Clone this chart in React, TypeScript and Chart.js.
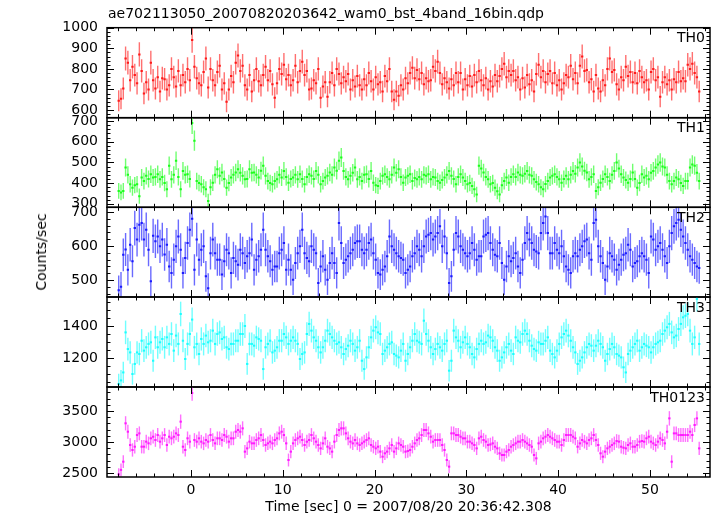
import React, { useEffect, useRef } from "react";
import { Chart, registerables } from "chart.js";

Chart.register(...registerables);

// ---------- data ----------
const TITLE = "ae702113050_20070820203642_wam0_bst_4band_16bin.qdp";
const X_TITLE = "Time [sec] 0 = 2007/08/20 20:36:42.308";
const Y_TITLE = "Counts/sec";

const BIN = 0.25; // seconds per bin
const T_START = -7.875; // centre of first bin
const X_TICKS = [0, 10, 20, 30, 40, 50];

const TH0 = [
  645, 655, 705, 850, 830, 745, 810, 770, 730, 870, 790, 680, 735, 700, 830, 745,
  705, 760, 690, 755, 750, 700, 720, 800, 760, 715, 790, 720, 770, 735, 800, 745,
  940, 810, 755, 730, 720, 785, 850, 710, 800, 745, 720, 785, 815, 700, 730, 640,
  700, 765, 735, 830, 865, 790, 815, 720, 700, 770, 690, 745, 800, 740, 720, 770,
  810, 745, 790, 725, 660, 730, 800, 775, 820, 750, 770, 720, 745, 815, 735, 790,
  835, 770, 790, 700, 705, 745, 730, 800, 660, 715, 735, 665, 735, 780, 720, 800,
  775, 730, 760, 740, 775, 700, 745, 715, 765, 720, 700, 750, 720, 780, 740, 700,
  760, 725, 735, 690, 765, 740, 800, 690, 650, 690, 670, 720, 700, 755, 730, 780,
  805, 755, 795, 750, 780, 725, 755, 740, 745, 810, 790, 835, 780, 725, 755, 735,
  705, 750, 720, 780, 735, 780, 700, 750, 720, 765, 715, 770, 735, 790, 745, 720,
  755, 700, 740, 715, 770, 740, 765, 800, 825, 760, 790, 770, 790, 745, 760, 700,
  755, 710, 770, 725, 745, 690, 775, 820, 760, 790, 735, 775, 790, 730, 780, 720,
  745, 700, 730, 770, 760, 815, 750, 780, 730, 815, 860, 790, 795, 735, 750, 690,
  770, 705, 690, 745, 720, 800, 850, 785, 795, 725, 700, 760, 745, 810, 765, 785,
  735, 780, 730, 790, 760, 735, 745, 700, 785, 800, 745, 760, 665, 735, 760, 725,
  745, 700, 750, 735, 785, 740, 755, 740, 820, 800, 825, 780, 760, 690,
];

const TH1 = [
  362, 355, 362, 475, 440, 394, 378, 390, 394, 337, 427, 410, 435, 420, 443, 427,
  430, 443, 418, 430, 400, 370, 484, 418, 440, 508, 430, 370, 459, 440, 443, 420,
  690, 605, 410, 400, 394, 380, 370, 313, 380, 402, 440, 467, 435, 451, 420, 378,
  400, 427, 440, 451, 467, 450, 435, 418, 420, 467, 450, 451, 440, 427, 460, 484,
  435, 410, 400, 394, 410, 418, 440, 427, 459, 430, 402, 420, 427, 440, 418, 443,
  420, 394, 430, 443, 435, 420, 459, 440, 394, 410, 427, 435, 451, 440, 475, 460,
  508, 524, 459, 430, 418, 435, 450, 475, 418, 430, 410, 440, 443, 420, 459, 402,
  390, 386, 410, 435, 443, 430, 418, 440, 475, 450, 467, 430, 402, 427, 435, 443,
  410, 425, 418, 430, 418, 440, 435, 443, 418, 430, 427, 410, 402, 415, 427, 440,
  459, 435, 420, 394, 430, 443, 427, 410, 394, 400, 386, 370, 345, 484, 470, 451,
  430, 418, 394, 400, 378, 360, 345, 390, 410, 427, 402, 430, 443, 430, 451, 440,
  435, 445, 459, 440, 435, 418, 405, 394, 380, 370, 395, 410, 427, 435, 443, 430,
  418, 402, 420, 435, 418, 440, 459, 445, 475, 500, 480, 460, 451, 418, 430, 443,
  362, 380, 402, 420, 443, 430, 410, 440, 459, 500, 470, 443, 427, 415, 402, 420,
  451, 420, 378, 400, 443, 427, 435, 418, 450, 459, 475, 490, 500, 480, 475, 440,
  410, 394, 410, 427, 418, 400, 386, 410, 410, 475, 490, 484, 450, 410,
];

const TH2 = [
  470, 480, 574, 590, 530, 604, 555, 653, 619, 663, 668, 619, 648, 589, 496, 630,
  614, 628, 599, 619, 575, 604, 540, 521, 560, 599, 628, 589, 521, 565, 609, 648,
  680, 530, 619, 560, 589, 599, 511, 476, 579, 619, 579, 560, 560, 516, 555, 589,
  579, 521, 565, 555, 545, 589, 579, 550, 570, 579, 619, 530, 560, 570, 589, 648,
  589, 570, 555, 530, 540, 540, 579, 589, 609, 530, 560, 530, 501, 550, 579, 599,
  648, 579, 565, 555, 599, 589, 579, 491, 540, 570, 530, 501, 550, 579, 550, 521,
  668, 609, 550, 560, 570, 579, 589, 609, 614, 614, 589, 579, 589, 609, 619, 579,
  560, 521, 516, 530, 540, 570, 628, 599, 589, 579, 570, 565, 560, 521, 530, 540,
  570, 579, 599, 589, 570, 599, 628, 633, 638, 619, 628, 638, 658, 599, 628, 579,
  491, 511, 589, 638, 628, 599, 589, 579, 570, 579, 609, 589, 560, 570, 570, 628,
  633, 638, 609, 589, 574, 570, 609, 550, 501, 540, 570, 555, 565, 579, 540, 521,
  560, 609, 638, 619, 609, 589, 584, 579, 638, 668, 687, 638, 579, 579, 609, 589,
  579, 599, 570, 540, 530, 521, 570, 579, 570, 589, 599, 614, 619, 579, 560, 668,
  677, 599, 570, 550, 501, 540, 579, 570, 560, 530, 545, 560, 574, 579, 604, 589,
  540, 550, 555, 570, 579, 570, 560, 521, 628, 619, 589, 599, 609, 589, 570, 550,
  599, 638, 658, 668, 677, 648, 628, 609, 589, 570, 560, 550, 540, 535,
];

const TH3 = [
  1038, 1060, 1110, 1360, 1256, 1235, 1100, 1163, 1235, 1225, 1308, 1246, 1267, 1288, 1298, 1183,
  1329, 1267, 1298, 1319, 1267, 1329, 1288, 1350, 1246, 1340, 1288, 1475, 1308, 1194, 1288, 1350,
  1440, 1267, 1288, 1225, 1319, 1288, 1340, 1298, 1308, 1371, 1288, 1350, 1360, 1319, 1329, 1267,
  1256, 1288, 1288, 1308, 1308, 1350, 1350, 1400, 1163, 1288, 1288, 1277, 1329, 1319, 1308, 1131,
  1267, 1288, 1308, 1235, 1246, 1267, 1308, 1308, 1350, 1329, 1288, 1308, 1329, 1308, 1288, 1194,
  1225, 1235, 1350, 1413, 1371, 1329, 1308, 1267, 1235, 1267, 1308, 1371, 1350, 1329, 1308, 1288,
  1298, 1267, 1225, 1256, 1277, 1308, 1288, 1246, 1267, 1308, 1183, 1131, 1204, 1267, 1329, 1371,
  1392, 1360, 1350, 1225, 1246, 1267, 1288, 1298, 1225, 1215, 1204, 1246, 1288, 1183, 1225, 1267,
  1308, 1350, 1308, 1298, 1288, 1433, 1350, 1308, 1267, 1225, 1256, 1288, 1267, 1246, 1288, 1308,
  1121, 1183, 1371, 1329, 1308, 1267, 1298, 1329, 1288, 1267, 1225, 1204, 1256, 1288, 1308, 1288,
  1298, 1340, 1329, 1308, 1267, 1246, 1183, 1204, 1235, 1267, 1288, 1246, 1225, 1329, 1308, 1298,
  1350, 1371, 1350, 1308, 1277, 1256, 1246, 1298, 1288, 1288, 1308, 1329, 1246, 1225, 1204, 1246,
  1288, 1329, 1350, 1371, 1340, 1308, 1267, 1235, 1163, 1183, 1204, 1235, 1267, 1288, 1277, 1246,
  1277, 1308, 1288, 1267, 1183, 1225, 1256, 1288, 1267, 1225, 1215, 1204, 1142, 1110, 1225, 1246,
  1267, 1288, 1308, 1246, 1267, 1288, 1277, 1267, 1235, 1267, 1288, 1298, 1308, 1350, 1371, 1392,
  1413, 1360, 1329, 1340, 1381, 1413, 1454, 1464, 1475, 1371, 1288, 1329, 1569, 1288,
];

const TH0123 = [
  2478, 2550, 2682, 3301, 3166, 2951, 2871, 2924, 3112, 3139, 2924, 2924, 3005, 2978, 3059, 3085,
  3032, 3112, 3005, 3059, 3112, 2951, 3085, 3059, 3085, 3139, 3112, 3328, 2924, 2871, 3059, 3005,
  3790, 3032, 3005, 3059, 3005, 2978, 3032, 3005, 3112, 3032, 2978, 3059, 3059, 3032, 3112, 3085,
  3005, 3059, 3059, 3166, 3193, 3166, 3220, 2844, 2897, 3005, 2978, 2978, 3032, 3059, 3112, 3032,
  2951, 2978, 3005, 2978, 3032, 3059, 3139, 3166, 3112, 2978, 2709, 2844, 2978, 3032, 3059, 3085,
  3032, 2951, 3005, 3032, 3112, 3059, 3005, 2951, 2897, 2978, 3059, 2924, 2897, 2844, 3005, 3112,
  3193, 3220, 3220, 3139, 3059, 3005, 2978, 3032, 2978, 2951, 2978, 3005, 3032, 3059, 2951, 2924,
  2897, 2924, 2844, 2763, 2817, 2844, 2897, 2951, 2844, 2897, 2978, 2951, 2924, 2844, 2854, 2871,
  2924, 2978, 3032, 3059, 3112, 3193, 3193, 3139, 3085, 3005, 3032, 3032, 3032, 2951, 2871, 2709,
  2602, 3139, 3139, 3112, 3112, 3085, 3059, 3059, 3005, 3005, 2978, 2951, 2897, 3059, 3085, 3032,
  3005, 2951, 2960, 2978, 2924, 2897, 2817, 2790, 2790, 2844, 2871, 2924, 2951, 2978, 3005, 3005,
  3032, 3005, 2978, 2951, 2924, 2790, 2736, 2978, 3005, 3059, 3085, 3112, 3085, 3059, 3032, 3005,
  3005, 2951, 3032, 3112, 3112, 3112, 3085, 3059, 2924, 2978, 3032, 3005, 2978, 3032, 3059, 3112,
  3032, 2951, 2817, 2763, 2844, 2897, 2924, 2951, 2978, 3016, 3005, 2924, 2908, 2897, 2951, 2978,
  2924, 2924, 2951, 3005, 3016, 3005, 3059, 3085, 3005, 2978, 2951, 3005, 3059, 3032, 2978, 3166,
  3381, 2682, 3139, 3139, 3112, 3112, 3112, 3112, 3112, 3166, 3112, 3274, 3381, 2897,
];

const TH0_TICKS = [600, 700, 800, 900, 1000];
const TH1_TICKS = [300, 400, 500, 600, 700];
const TH2_TICKS = [500, 600, 700];
const TH3_TICKS = [1200, 1400];
const TH0123_TICKS = [2500, 3000, 3500];

// ---------- layout / style ----------
const W = 717;
const H = 516;
const LEFT = 107;
const RIGHT = 710;
const X_MIN = -9.15;
const X_MAX = 56.55;
const FONT_FAMILY = '"DejaVu Sans", "Liberation Sans", sans-serif';
const FONT_SIZE = 14;

type Panel = {
  name: string;
  values: number[];
  color: string;
  errColor: string;
  min: number;
  max: number;
  ticks: number[];
  major: number;
  minor: number;
  top: number;
  bottom: number;
};

const PANELS: Panel[] = [
  { name: "TH0", values: TH0, color: "#ff1a1a", errColor: "#ff7070", min: 563, max: 1000, ticks: TH0_TICKS, major: 100, minor: 20, top: 27.7, bottom: 117.7 },
  { name: "TH1", values: TH1, color: "#1aff1a", errColor: "#70ff70", min: 283, max: 716, ticks: TH1_TICKS, major: 100, minor: 20, top: 117.7, bottom: 207.3 },
  { name: "TH2", values: TH2, color: "#1a1aff", errColor: "#6a6aff", min: 450, max: 714, ticks: TH2_TICKS, major: 100, minor: 20, top: 207.3, bottom: 297 },
  { name: "TH3", values: TH3, color: "#1affff", errColor: "#70ffff", min: 1019, max: 1581, ticks: TH3_TICKS, major: 200, minor: 50, top: 297, bottom: 387 },
  { name: "TH0123", values: TH0123, color: "#ff1aff", errColor: "#ff70ff", min: 2435, max: 3887, ticks: TH0123_TICKS, major: 500, minor: 100, top: 387, bottom: 477 },
];

function makePlugin(panel: Panel) {
  return {
    id: "qdpPanel",
    afterDatasetsDraw(chart: any) {
      const { ctx, chartArea, scales } = chart;
      const x = scales.x;
      const y = scales.y;
      ctx.save();
      ctx.beginPath();
      ctx.rect(chartArea.left, chartArea.top, chartArea.right - chartArea.left, chartArea.bottom - chartArea.top);
      ctx.clip();
      for (const ds of chart.data.datasets) {
        const pts = ds.data as any[];
        // error bars (lighter)
        ctx.strokeStyle = panel.errColor;
        ctx.lineWidth = 1.4;
        for (const pt of pts) {
          const px = x.getPixelForValue(pt.x);
          ctx.beginPath();
          ctx.moveTo(px, y.getPixelForValue(pt.y - pt.err));
          ctx.lineTo(px, y.getPixelForValue(pt.y + pt.err));
          ctx.stroke();
        }
        // bin-width bars (solid)
        ctx.strokeStyle = panel.color;
        ctx.lineWidth = 2;
        for (const pt of pts) {
          const py = y.getPixelForValue(pt.y);
          ctx.beginPath();
          ctx.moveTo(x.getPixelForValue(pt.x - BIN / 2), py);
          ctx.lineTo(x.getPixelForValue(pt.x + BIN / 2), py);
          ctx.stroke();
        }
      }
      ctx.restore();
    },
    afterDraw(chart: any) {
      const { ctx, chartArea, scales } = chart;
      const x = scales.x;
      const y = scales.y;
      const { left, right, top, bottom } = chartArea;
      ctx.save();
      ctx.strokeStyle = "#000";
      ctx.lineWidth = 1;
      // x ticks (top and bottom, inward)
      for (let v = Math.ceil(X_MIN / 2) * 2; v <= X_MAX; v += 2) {
        const len = v % 10 === 0 ? 7 : 3.5;
        const px = Math.round(x.getPixelForValue(v)) + 0.5;
        ctx.beginPath();
        ctx.moveTo(px, top);
        ctx.lineTo(px, top + len);
        ctx.moveTo(px, bottom);
        ctx.lineTo(px, bottom - len);
        ctx.stroke();
      }
      // y ticks (left and right, inward)
      for (let v = Math.ceil(panel.min / panel.minor) * panel.minor; v <= panel.max; v += panel.minor) {
        const len = v % panel.major === 0 ? 7 : 3.5;
        const py = Math.round(y.getPixelForValue(v)) + 0.5;
        ctx.beginPath();
        ctx.moveTo(left, py);
        ctx.lineTo(left + len, py);
        ctx.moveTo(right, py);
        ctx.lineTo(right - len, py);
        ctx.stroke();
      }
      // frame
      ctx.lineWidth = 1.5;
      ctx.strokeRect(left, top, right - left, bottom - top);
      // panel name
      ctx.fillStyle = "#000";
      ctx.font = `${FONT_SIZE}px ${FONT_FAMILY}`;
      ctx.textAlign = "right";
      ctx.textBaseline = "middle";
      ctx.fillText(panel.name, right - 5, top + 11);
      ctx.restore();
    },
  };
}

function makeChart(canvas: HTMLCanvasElement, panel: Panel, isLast: boolean) {
  const data = panel.values.map((v, i) => ({
    x: T_START + i * BIN,
    y: v,
    err: Math.sqrt(v * BIN) / BIN,
  }));
  const font = { family: FONT_FAMILY, size: FONT_SIZE };
  return new Chart(canvas, {
    type: "line",
    data: {
      datasets: [
        {
          label: panel.name,
          data,
          showLine: false,
          pointRadius: 0,
          borderWidth: 0,
          borderColor: panel.color,
          backgroundColor: panel.color,
        } as any,
      ],
    },
    options: {
      responsive: false,
      animation: false,
      devicePixelRatio: 1,
      events: [],
      layout: {
        padding: {
          left: 0,
          right: W - RIGHT,
          top: panel.top,
          bottom: isLast ? 0 : H - panel.bottom,
        },
      },
      plugins: {
        legend: { display: false },
        tooltip: { enabled: false },
        title: { display: false },
      },
      scales: {
        x: {
          type: "linear",
          min: X_MIN,
          max: X_MAX,
          display: isLast,
          grid: { display: false, drawTicks: false },
          border: { display: false },
          ticks: { font, color: "#000", padding: 5, maxRotation: 0, autoSkip: false, callback: (v: any) => String(v) },
          title: { display: true, text: X_TITLE, font, color: "#000", padding: { top: 0, bottom: 0 } },
          afterBuildTicks: (s: any) => {
            s.ticks = X_TICKS.map((v) => ({ value: v }));
          },
          afterFit: (s: any) => {
            s.height = isLast ? H - panel.bottom : 0;
          },
        },
        y: {
          type: "linear",
          min: panel.min,
          max: panel.max,
          grid: { display: false, drawTicks: false },
          border: { display: false },
          ticks: { font, color: "#000", padding: 9, autoSkip: false, callback: (v: any) => String(v) },
          afterBuildTicks: (s: any) => {
            s.ticks = panel.ticks.map((v) => ({ value: v }));
          },
          afterFit: (s: any) => {
            s.width = LEFT;
          },
        },
      },
    } as any,
    plugins: [makePlugin(panel)],
  });
}

export default function App() {
  const refs = useRef<(HTMLCanvasElement | null)[]>([]);
  useEffect(() => {
    const charts = PANELS.map((p, k) => makeChart(refs.current[k] as HTMLCanvasElement, p, k === PANELS.length - 1));
    return () => charts.forEach((c) => c.destroy());
  }, []);
  const textFont = `${FONT_SIZE}px ${FONT_FAMILY}`;
  return (
    <div style={{ position: "fixed", left: 0, top: 0, width: W, height: H, background: "#fff", overflow: "hidden" }}>
      {PANELS.map((p, k) => (
        <canvas
          key={p.name}
          ref={(el) => {
            refs.current[k] = el;
          }}
          width={W}
          height={H}
          style={{ position: "absolute", left: 0, top: 0, width: W, height: H }}
        />
      ))}
      <div style={{ position: "absolute", left: 108, top: 5, font: textFont, color: "#000", whiteSpace: "nowrap" }}>{TITLE}</div>
      <div
        style={{
          position: "absolute",
          left: 41,
          top: 252,
          transform: "translate(-50%, -50%) rotate(-90deg)",
          font: textFont,
          color: "#000",
          whiteSpace: "nowrap",
        }}
      >
        {Y_TITLE}
      </div>
    </div>
  );
}
